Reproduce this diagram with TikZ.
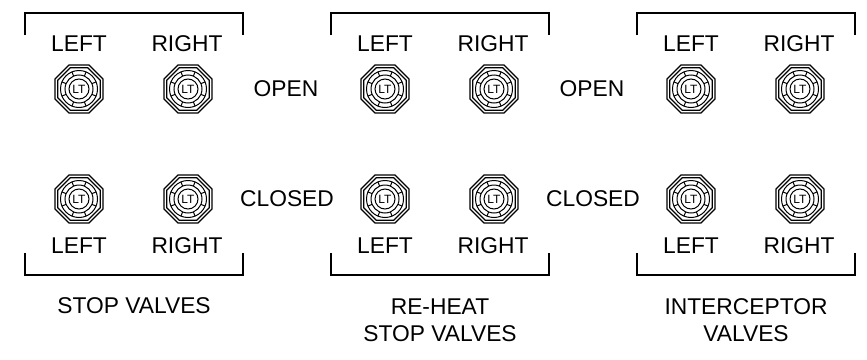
\documentclass[tikz,border=0pt]{standalone}
\usepackage{fontspec}
\setmainfont{Liberation Sans}
\usetikzlibrary{shapes.geometric}
\tikzset{
  lbl/.style={font=\fontsize{22.8}{27}\selectfont,inner sep=0pt,align=center},
  bracketline/.style={line width=1.4pt,line cap=butt,line join=miter},
  octa/.style={draw,line width=1.2pt,regular polygon,regular polygon sides=8,minimum size=#1,inner sep=0pt},
  lampline/.style={line width=1pt},
  lampcore/.style={draw,circle,line width=1pt,minimum size=20pt,inner sep=0pt,font=\fontsize{12}{14}\selectfont}
}
\newcommand{\lamp}[3]{%
  \node[octa=52pt] (#1o) at (#2,#3) {};
  \node[octa=46pt] (#1i) at (#2,#3) {};
  \draw[lampline] (#2,#3) circle[radius=18.5pt];
  \draw[lampline] (#2,#3) circle[radius=14pt];
  \foreach \a in {22.5,67.5,...,337.5}{
    \draw[lampline] (#2,#3) ++(\a:14pt) -- ++(\a:4.5pt);
  }
  \node[lampcore,fill=white] (#1c) at (#2,#3) {LT};
}
\begin{document}
\begin{tikzpicture}[x=1pt,y=-1pt]
\useasboundingbox (0,0) rectangle (867,359);
\foreach \dx/\n in {0/a,306/b,612/c}{
  \coordinate (tl\n) at (25+\dx,35);
  \coordinate (tla\n) at (25+\dx,13);
  \coordinate (tra\n) at (243+\dx,13);
  \coordinate (tr\n) at (243+\dx,35);
  \draw[bracketline] (tl\n) -- (tla\n) -- (tra\n) -- (tr\n);
  \coordinate (bl\n) at (25+\dx,253);
  \coordinate (bla\n) at (25+\dx,275);
  \coordinate (bra\n) at (243+\dx,275);
  \coordinate (br\n) at (243+\dx,253);
  \draw[bracketline] (bl\n) -- (bla\n) -- (bra\n) -- (br\n);
  \node[lbl] (lt\n) at (79+\dx,44) {LEFT};
  \node[lbl] (rt\n) at (187+\dx,44) {RIGHT};
  \node[lbl] (lb\n) at (79+\dx,246) {LEFT};
  \node[lbl] (rb\n) at (187+\dx,246) {RIGHT};
  \lamp{ul\n}{79+\dx}{89}
  \lamp{ur\n}{188+\dx}{89}
  \lamp{dl\n}{79+\dx}{199}
  \lamp{dr\n}{188+\dx}{199}
}
\node[lbl] (open1) at (286,89) {OPEN};
\node[lbl] (open2) at (592,89) {OPEN};
\node[lbl] (closed1) at (287,199) {CLOSED};
\node[lbl] (closed2) at (593,199) {CLOSED};
\node[lbl] (s1) at (134,306) {STOP VALVES};
\node[lbl] (s2) at (440,320) {RE-HEAT\\STOP VALVES};
\node[lbl] (s3) at (746,320) {INTERCEPTOR\\VALVES};
\end{tikzpicture}
\end{document}
